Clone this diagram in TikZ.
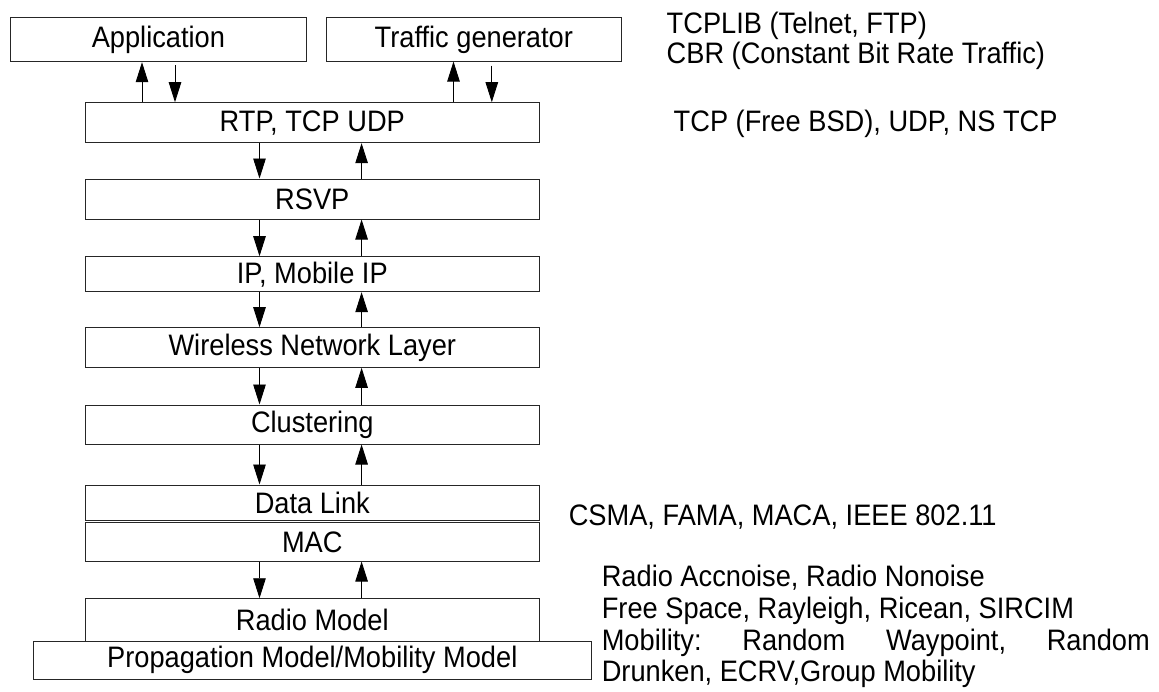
\documentclass[tikz,border=0pt]{standalone}
\usepackage{fontspec}
\setmainfont{Liberation Sans}[FakeStretch=0.92]
\usetikzlibrary{arrows.meta}
\begin{document}
\begin{tikzpicture}[x=1pt,y=-1pt,
  box/.style={draw=black!85, line width=1pt, inner sep=0pt, font=\fontsize{29.6}{32}\selectfont},
  lbl/.style={inner sep=0pt, anchor=base west, font=\fontsize{29.6}{32}\selectfont},
  arr/.style={line width=0.9pt, -{Triangle[width=12.5pt,length=20pt]}}]
\useasboundingbox (0,0) rectangle (1159,691);
% boxes
\node[box, minimum width=295.3pt, minimum height=44pt] (app) at (158.4,39.7) {Application};
\node[box, minimum width=294.5pt, minimum height=43.3pt] (tg) at (473.8,39.4) {Traffic generator};
\node[box, minimum width=454.6pt, minimum height=40pt] (rtp) at (312.3,122.7) {RTP, TCP UDP};
\node[box, minimum width=454.6pt, minimum height=40pt] (rsvp) at (312.3,199) {RSVP};
\node[box, minimum width=454.6pt, minimum height=35pt] (ip) at (312.3,274.2) {IP, Mobile IP};
\node[box, minimum width=454.6pt, minimum height=39.6pt] (wnl) at (312.3,347.5) {Wireless Network Layer};
\node[box, minimum width=454.6pt, minimum height=39pt] (clu) at (312.3,424.5) {Clustering};
\node[box, minimum width=454.6pt, minimum height=35pt] (dl) at (312.3,502.5) {Data Link};
\node[box, minimum width=454.6pt, minimum height=38.3pt] (mac) at (312.3,541.9) {MAC};
\node[box, minimum width=454.6pt, minimum height=42.3pt] (radio) at (312.3,619.9) {Radio Model};
\node[box, minimum width=558pt, minimum height=38pt] (prop) at (312.3,660) {Propagation Model/Mobility Model};
% arrow columns
\coordinate (dn) at (259.5,0);
\coordinate (up) at (361.6,0);
\coordinate (a1) at (142,0);
\coordinate (a2) at (175,0);
\coordinate (t1) at (453.5,0);
\coordinate (t2) at (491.8,0);
\draw[arr] (rtp.north -| a1) -- (app.south -| a1);
\draw[arr] ([yshift=-3pt]app.south -| a2) -- (rtp.north -| a2);
\draw[arr] (rtp.north -| t1) -- (tg.south -| t1);
\draw[arr] ([yshift=-4pt]tg.south -| t2) -- (rtp.north -| t2);
\foreach \a/\b in {rtp/rsvp, rsvp/ip, ip/wnl, wnl/clu, clu/dl, mac/radio}{
  \draw[arr] (\a.south -| dn) -- (\b.north -| dn);
  \draw[arr] (\b.north -| up) -- (\a.south -| up);
}
% side texts
\node[lbl] (t1a) at (666.5,33.5) {TCPLIB (Telnet, FTP)};
\node[lbl] (t1b) at (666.5,63) {CBR (Constant Bit Rate Traffic)};
\node[lbl] (t2a) at (673.5,131.7) {TCP (Free BSD), UDP, NS TCP};
\node[lbl] (t3a) at (568.6,525) {CSMA, FAMA, MACA, IEEE 802.11};
\node[lbl] (t4a) at (601.6,586) {Radio Accnoise, Radio Nonoise};
\node[lbl] (t4b) at (601.6,618.3) {Free Space, Rayleigh, Ricean, SIRCIM};
\node[lbl] (t4c) at (601.6,650) {\makebox[548pt][s]{Mobility:\hfill Random\hfill Waypoint,\hfill Random}};
\node[lbl] (t4d) at (601.6,681.7) {Drunken, ECRV,Group Mobility};
\end{tikzpicture}
\end{document}
